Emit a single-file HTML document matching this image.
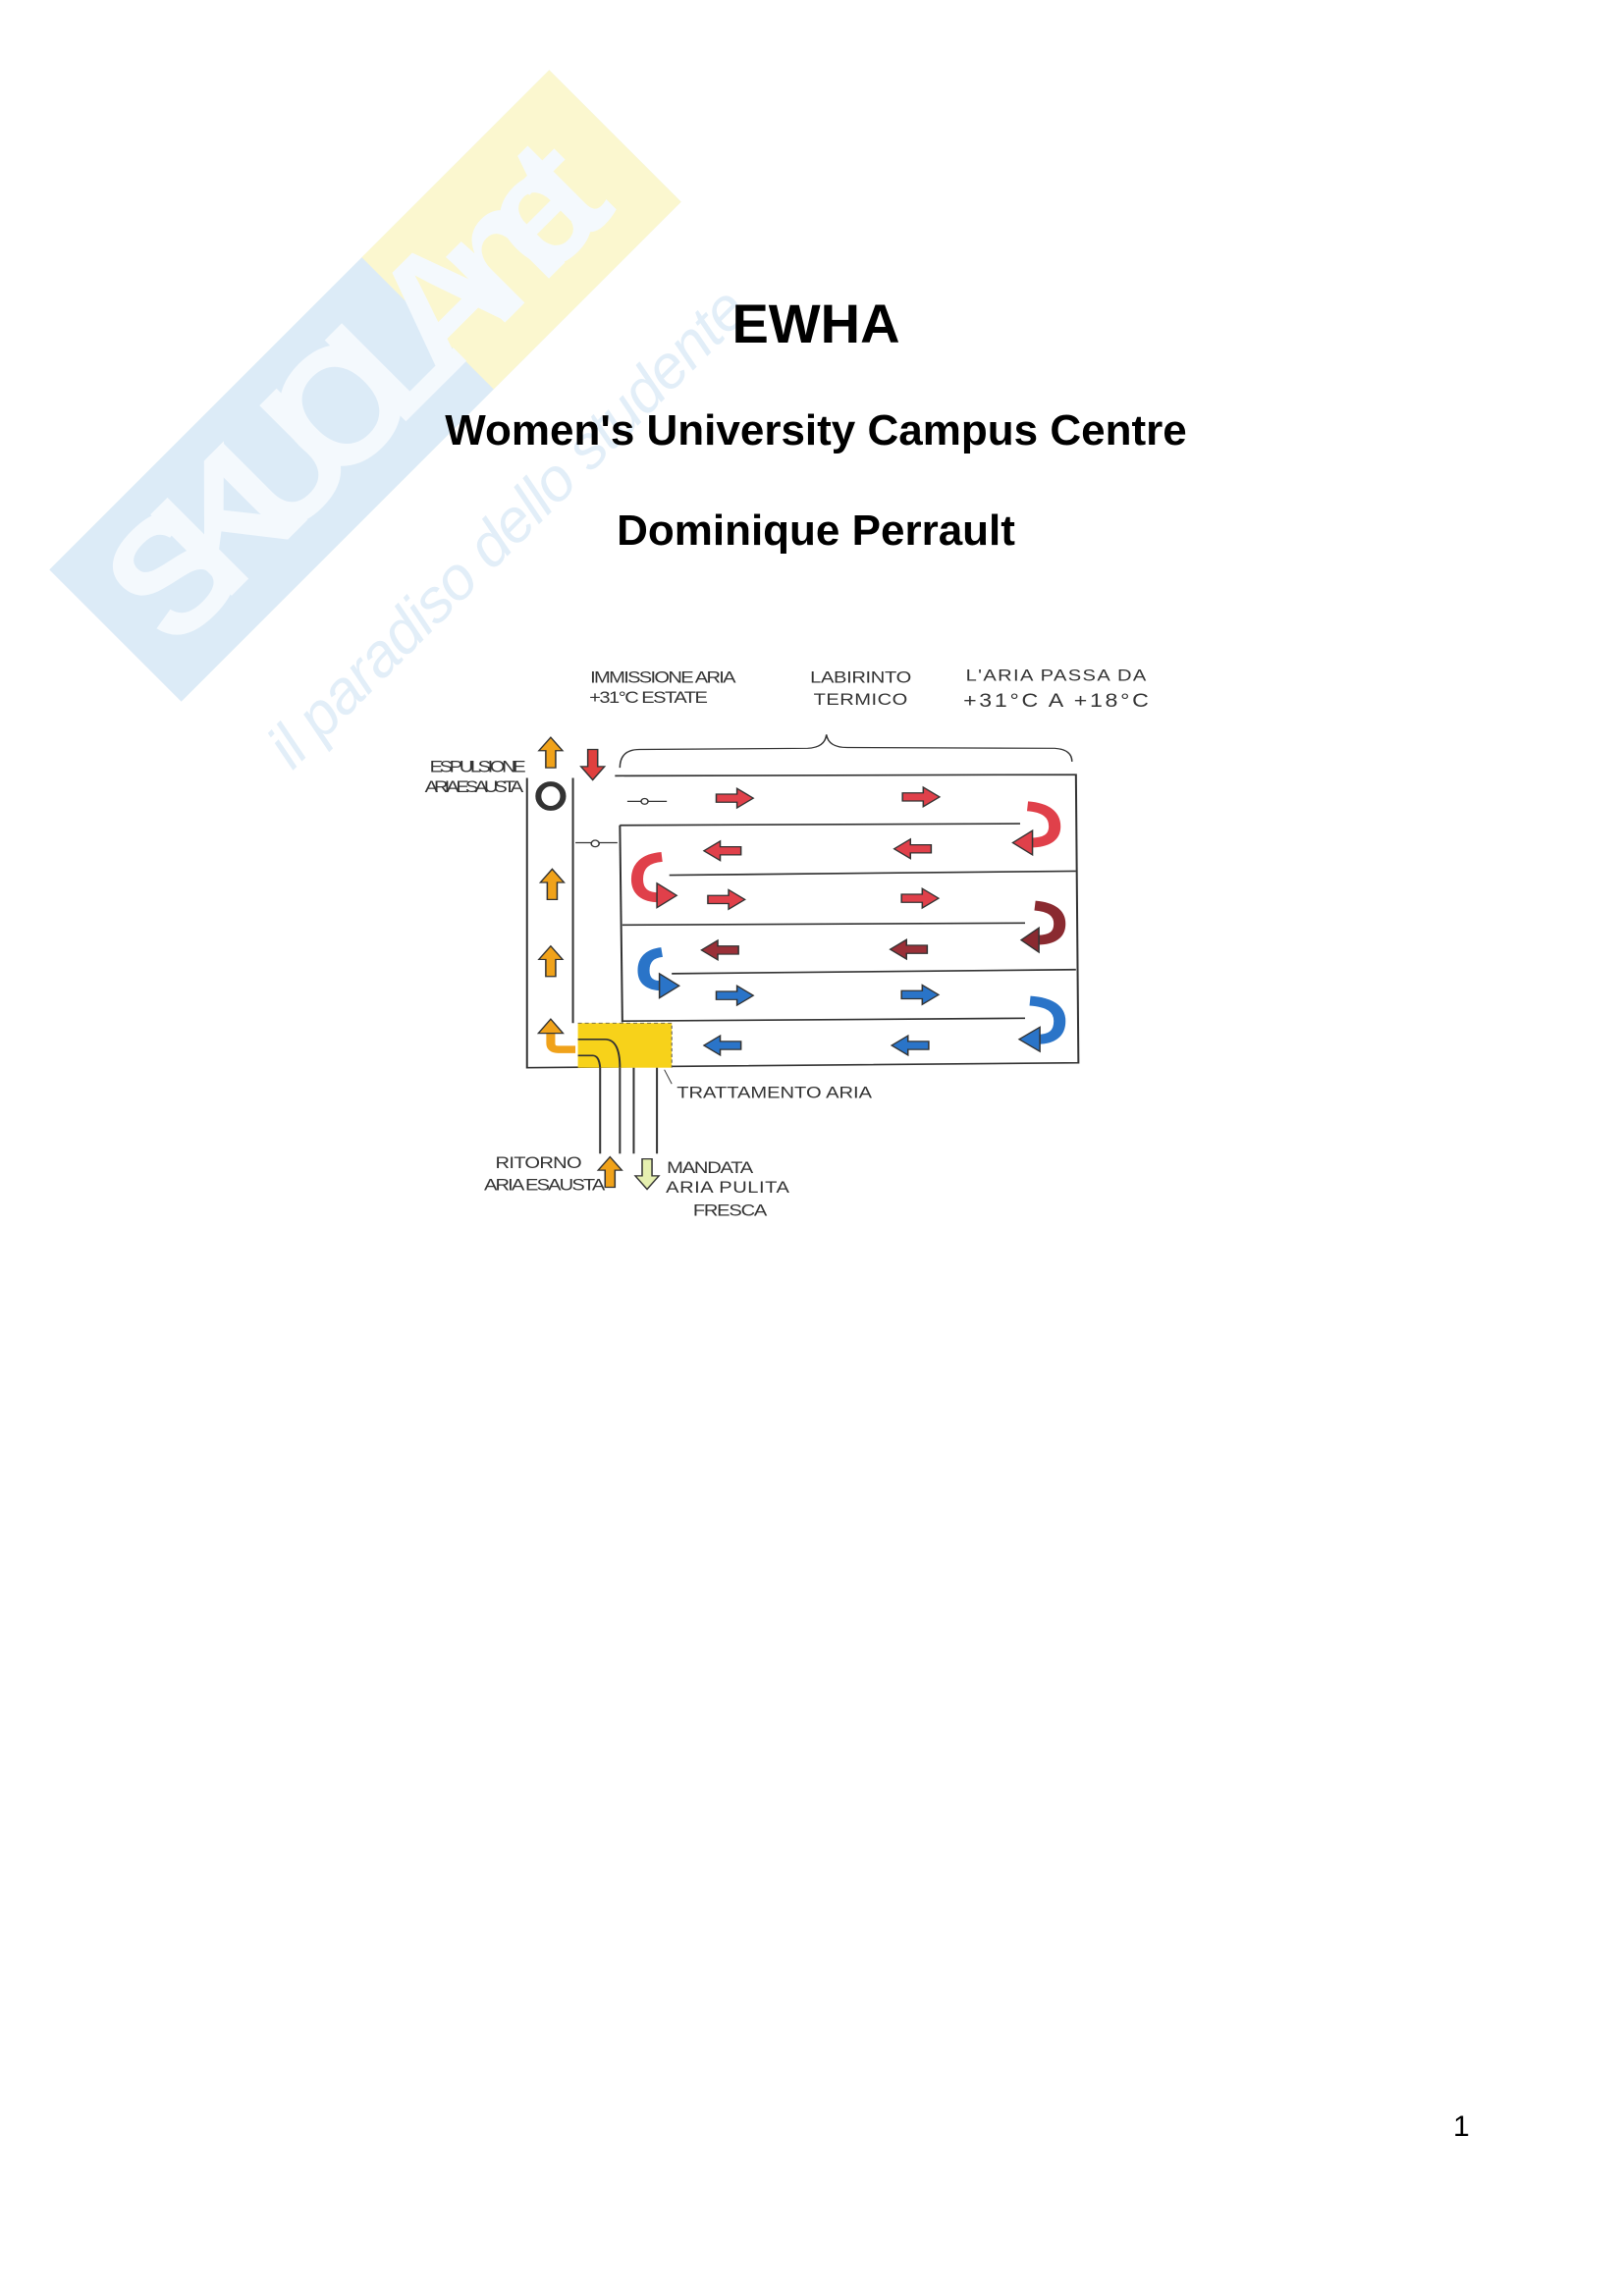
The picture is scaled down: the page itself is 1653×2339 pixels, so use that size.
<!DOCTYPE html>
<html><head><meta charset="utf-8"><style>
html,body{margin:0;padding:0;background:#fff}
body{width:1653px;height:2339px;position:relative;overflow:hidden;font-family:"Liberation Sans",sans-serif}
.t{position:absolute;left:0;width:1662px;text-align:center;font-weight:bold;color:#000;white-space:nowrap}
</style></head><body>
<svg style="position:absolute;left:0;top:0" width="1653" height="900">
 <g transform="translate(372,393) rotate(-45)">
  <rect x="-360" y="-95" width="720" height="190" fill="#dcebf7"/>
  <rect x="90" y="-95" width="270" height="190" fill="#fbf7cf"/>
  <text x="-330" y="55" font-family="Liberation Sans" font-weight="bold" font-size="170" fill="#f4f9fd" textLength="640">SKUOLA.net</text>
  <text x="-330" y="225" font-family="Liberation Sans" font-style="italic" font-size="62" fill="#e2eef8" textLength="660">il paradiso dello studente</text>
 </g>
</svg>
<div class="t" style="top:297px;font-size:56px">EWHA</div>
<div class="t" style="top:414px;font-size:44px">Women's University Campus Centre</div>
<div class="t" style="top:516px;font-size:44px">Dominique Perrault</div>
<div style="position:absolute;left:1480px;top:2150px;font-size:30px">1</div>

<svg style="position:absolute;left:420px;top:650px" width="780" height="640" viewBox="0 0 1550 1550" preserveAspectRatio="none">
 <defs>
  <path id="ar" d="M0,-10 L42,-10 L42,-24 L75,0 L42,24 L42,10 L0,10 Z" stroke="#333" stroke-width="3"/>
 </defs>
 <g font-family="Liberation Sans" font-size="40" fill="#333">
  <text x="360" y="110" textLength="295">IMMISSIONE ARIA</text>
  <text x="358" y="160" textLength="240">+31°C ESTATE</text>
  <text x="805" y="110" textLength="205">LABIRINTO</text>
  <text x="812" y="165" textLength="190">TERMICO</text>
  <text x="1120" y="105" textLength="365">L'ARIA  PASSA DA</text>
  <text x="1115" y="170" textLength="375" font-size="46">+31°C  A +18°C</text>
  <text x="35" y="330" textLength="195">ESPULSIONE</text>
  <text x="25" y="380" textLength="200">ARIA ESAUSTA</text>
  <text x="535" y="1135" textLength="395">TRATTAMENTO  ARIA</text>
  <text x="168" y="1308" textLength="175">RITORNO</text>
  <text x="145" y="1362" textLength="245">ARIA ESAUSTA</text>
  <text x="515" y="1320" textLength="175">MANDATA</text>
  <text x="513" y="1368" textLength="250">ARIA PULITA</text>
  <text x="568" y="1425" textLength="150">FRESCA</text>
 </g>
 <path d="M420,320 Q420,275 460,275 L800,272 Q835,270 838,238 Q842,270 880,270 L1300,272 Q1335,275 1335,305" fill="none" stroke="#333" stroke-width="3"/>
 <g stroke="#333" stroke-width="4" fill="none">
  <path d="M232,345 L232,1060 L1348,1048 L1343,337 L410,340"/>
  <path d="M325,345 L325,950"/>
  <path d="M420,462 L1230,458"/>
  <path d="M420,462 L425,948"/>
  <path d="M520,585 L1343,575"/>
  <path d="M425,708 L1240,703"/>
  <path d="M525,828 L1343,818"/>
  <path d="M425,945 L1240,938"/>
  <path d="M380,1060 L380,1272 M420,1060 L420,1272 M448,1060 L448,1272 M495,1060 L495,1272"/>
  <path d="M510,1065 L525,1100" stroke-width="2"/>
 </g>
 <rect x="335" y="950" width="190" height="110" fill="#f7d21a"/>
 <path d="M335,950 L525,950 L525,1060" fill="none" stroke="#555" stroke-width="2" stroke-dasharray="8,6"/>
 <path d="M335,1030 L365,1030 Q378,1030 380,1060 M335,990 L390,990 Q420,990 420,1060" fill="none" stroke="#333" stroke-width="4"/>
 <g stroke="#333" stroke-width="3" fill="#fff">
  <path d="M435,403 L515,403 M330,505 L415,505" fill="none"/>
  <circle cx="470" cy="403" r="7"/><circle cx="370" cy="507" r="8"/>
 </g>
 <ellipse cx="280" cy="390" rx="25" ry="30" fill="none" stroke="#333" stroke-width="12"/>
 <g fill="#f0a21a">
  <use href="#ar" transform="translate(280,320) rotate(-90)"/>
  <use href="#ar" transform="translate(283,645) rotate(-90)"/>
  <use href="#ar" transform="translate(280,835) rotate(-90)"/>
  <use href="#ar" transform="translate(400,1355) rotate(-90)"/>
 </g>
 <path d="M330,1015 L295,1015 Q280,1015 280,1000 L280,975" fill="none" stroke="#f0a21a" stroke-width="18"/>
 <path d="M255,975 L280,940 L305,975 Z" fill="#f0a21a" stroke="#333" stroke-width="3"/>
 <use href="#ar" transform="translate(475,1285) rotate(90)" fill="#e6f0b0"/>
 <use href="#ar" transform="translate(365,275) rotate(90)" fill="#e0403e"/>
 <g fill="#e0404a">
  <use href="#ar" transform="translate(615,395)"/>
  <use href="#ar" transform="translate(992,392)"/>
  <use href="#ar" transform="translate(665,525) rotate(180)"/>
  <use href="#ar" transform="translate(1050,520) rotate(180)"/>
  <use href="#ar" transform="translate(598,645)"/>
  <use href="#ar" transform="translate(990,642)"/>
 </g>
 <g fill="#9a3038">
  <use href="#ar" transform="translate(660,770) rotate(180)"/>
  <use href="#ar" transform="translate(1042,768) rotate(180)"/>
 </g>
 <g fill="#2a74c8">
  <use href="#ar" transform="translate(615,882)"/>
  <use href="#ar" transform="translate(990,880)"/>
  <use href="#ar" transform="translate(665,1005) rotate(180)"/>
  <use href="#ar" transform="translate(1045,1005) rotate(180)"/>
 </g>
 <g fill="none" stroke-width="24">
  <path d="M1245,415 Q1300,420 1300,465 Q1300,505 1250,505" stroke="#e0404a"/>
  <path d="M1260,660 Q1310,665 1310,705 Q1310,745 1265,745" stroke="#8a2a30"/>
  <path d="M1250,895 Q1310,900 1310,945 Q1310,990 1265,990" stroke="#2a74c8"/>
  <path d="M505,540 Q455,545 455,595 Q455,640 500,640" stroke="#e0404a"/>
  <path d="M505,775 Q468,780 468,820 Q468,858 505,858" stroke="#2a74c8"/>
 </g>
 <g stroke="#333" stroke-width="3">
  <path d="M1255,475 L1215,505 L1255,535 Z" fill="#e0404a"/>
  <path d="M1268,715 L1232,745 L1268,775 Z" fill="#8a2a30"/>
  <path d="M1270,960 L1228,990 L1270,1020 Z" fill="#2a74c8"/>
  <path d="M495,605 L535,635 L495,665 Z" fill="#e0404a"/>
  <path d="M500,828 L540,858 L500,888 Z" fill="#2a74c8"/>
 </g>
</svg>
</body></html>
